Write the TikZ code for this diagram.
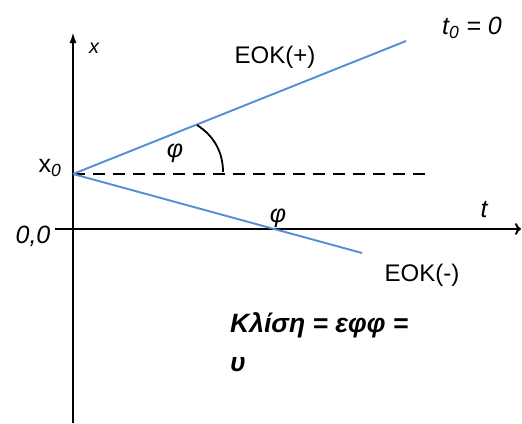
\documentclass[tikz,border=0pt]{standalone}
\usepackage{fontspec}
\setmainfont{Liberation Sans}
\usetikzlibrary{arrows.meta}

\begin{document}
\begin{tikzpicture}[
    x=1pt, y=-1pt,
    every node/.style={font=\fontsize{24}{28}\selectfont, inner sep=1pt},
    axis/.style={line width=2pt},
    motion/.style={draw={rgb,255:red,84;green,141;blue,212}, line width=1.9pt},
    guide/.style={line width=1.7pt, dash pattern=on 12pt off 8pt},
    mathlabel/.style={font=\fontsize{25}{29}\selectfont\itshape}
]
\useasboundingbox (0,0) rectangle (522,423);

% ------------------------
% Axes
% ------------------------
\coordinate (origin) at (73,229);
\coordinate (xstart) at (73,174);
\coordinate (ttop) at (73,32);
\coordinate (tbottom) at (73,423);
\coordinate (tleft) at (55,229);
\coordinate (tright) at (521,229);

\draw[axis, -{Latex[length=11pt, width=7pt]}] (tbottom) -- (ttop);
\draw[axis, -{To[length=6pt, width=12pt]}] (tleft) -- (tright);

% ------------------------
% Motion lines
% ------------------------
\coordinate (plusend) at (406,41);
\coordinate (minusend) at (362,253);
\coordinate (dashend) at (432,174);

\draw[guide] (xstart) -- (dashend);
\draw[motion] (xstart) -- (plusend);
\draw[motion] (xstart) -- (minusend);

% ------------------------
% Angle mark
% ------------------------
\draw[line width=1.8pt] (197,125) .. controls (214,136) and (223,152) .. (223,172);

% ------------------------
% Labels
% ------------------------
\node[mathlabel] (xlabel) at (94,48) {\fontsize{20}{24}\selectfont x};
\node[mathlabel] (tzero) at (472,28) {t$_{\mathit{0}}$ = 0};
\node (plus) at (275,57) {ΕΟΚ(+)};
\node[font=\fontsize{25}{29}\selectfont] (xzero) at (50,168) {x$_{\mathit{0}}$};
\node[mathlabel] (zero) at (33,236) {0,0};
\node[mathlabel] (tlabel) at (484,210) {t};
\node[mathlabel] (phiup) at (175,153) {φ};
\node[mathlabel] (phidown) at (278,218) {φ};
\node (minus) at (422,275) {ΕΟΚ(-)};
\node[font=\fontsize{26.5}{30}\selectfont\bfseries\itshape, align=left, anchor=north west]
    (slope) at (229,311) {Κλίση = εφφ =\\[9pt]υ};

\end{tikzpicture}
\end{document}
